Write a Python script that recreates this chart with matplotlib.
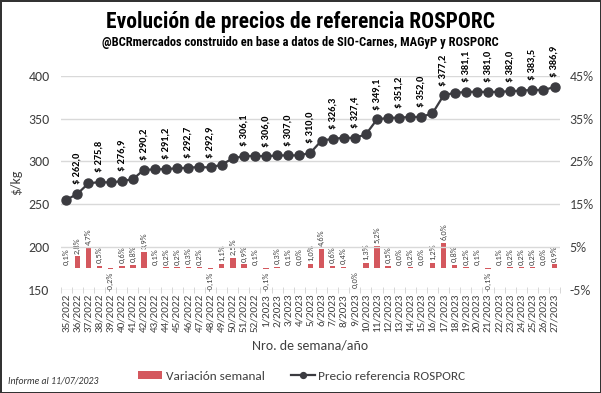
import matplotlib
matplotlib.use("Agg")
import matplotlib.pyplot as plt
import matplotlib.font_manager as fm
import numpy as np

# weeks 35/2022 .. 27/2023
weeks = [f"{w}/2022" for w in range(35, 53)] + [f"{w}/2023" for w in range(1, 28)]

price = [254.9, 262.0, 274.3, 275.8, 275.3, 276.9, 279.1, 290.2, 290.5, 291.2,
         291.8, 292.7, 293.3, 292.9, 296.1, 303.5, 306.1, 306.4, 306.0, 306.9,
         307.0, 307.0, 310.0, 324.3, 326.3, 327.6, 327.4, 331.6, 349.1, 350.8,
         351.2, 351.9, 352.0, 356.2, 377.2, 380.2, 381.1, 381.5, 381.0, 381.4,
         382.0, 382.8, 383.5, 383.5, 386.9]

var_pct = [0.1, 2.8, 4.7, 0.5, -0.2, 0.6, 0.8, 3.9, 0.1, 0.2,
           0.2, 0.3, 0.2, -0.1, 1.1, 2.5, 0.9, 0.1, -0.1, 0.3,
           0.1, 0.0, 1.0, 4.6, 0.6, 0.4, -0.02, 1.3, 5.2, 0.5,
           0.0, 0.2, 0.0, 1.2, 6.0, 0.8, 0.2, 0.1, -0.1, 0.1,
           0.2, 0.2, 0.2, 0.0, 0.9]

# points that carry a price label
price_labeled = [1, 3, 5, 7, 9, 11, 13, 16, 18, 20, 22, 24, 26, 28, 30, 32,
                 34, 36, 38, 40, 42, 44]


def pick(names):
    for n in names:
        try:
            fm.findfont(fm.FontProperties(family=n), fallback_to_default=False)
            return n
        except Exception:
            pass
    return 'DejaVu Sans'


narrow = pick(['Liberation Sans Narrow', 'DejaVu Sans Condensed', 'Roboto Condensed'])
body = pick(['Carlito', 'Liberation Sans Narrow', 'Liberation Sans'])
plt.rcParams['font.family'] = [body, 'DejaVu Sans']

line_col = '#3b3b40'
bar_col = '#d4585e'
txt_col = '#404040'

fig = plt.figure(figsize=(6.01, 3.93), dpi=100)
fig.patch.set_edgecolor('#333333')
fig.patch.set_linewidth(2)

ax = fig.add_axes([0.101, 0.263, 0.831, 0.544])
ax2 = ax.twinx()
x = np.arange(len(weeks))

# bars on the right (percent) axis
ax2.bar(x, var_pct, width=0.5, color=bar_col, zorder=2, label='Variación semanal')
for i, v in enumerate(var_pct):
    s = f"{abs(v) if round(v, 1) == 0 else v:.1f}%".replace('.', ',')
    if v >= 0:
        ax2.annotate(s, (i, v), xytext=(0, 2), textcoords='offset points', rotation=90,
                     ha='center', va='bottom', fontsize=6, color=txt_col)
    else:
        ax2.annotate(s, (i, v), xytext=(0, -2), textcoords='offset points', rotation=90,
                     ha='center', va='top', fontsize=6, color=txt_col)
ax2.set_ylim(-5, 45)
ax2.set_yticks([-5, 5, 15, 25, 35, 45])
ax2.set_yticklabels(['-5%', '5%', '15%', '25%', '35%', '45%'])

# price line on the left axis, drawn above the bars
ax.set_zorder(ax2.get_zorder() + 1)
ax.patch.set_visible(False)
ax.plot(x, price, color=line_col, lw=1.6, marker='o', ms=6.5, zorder=3,
        label='Precio referencia ROSPORC')
for i in price_labeled:
    ax.annotate(f"$ {price[i]:.1f}".replace('.', ','), (i, price[i]), xytext=(0, 7),
                textcoords='offset points', rotation=90, ha='center', va='bottom',
                fontsize=7.5, fontweight='bold', color='black')
ax.set_ylim(150, 400)
ax.set_yticks(range(150, 401, 50))
ax.set_xlim(-0.5, len(weeks) - 0.5)
ax.set_xticks(x)
ax.set_xticklabels(weeks, rotation=90, fontsize=8, color=txt_col)
ax.set_xticks(np.arange(-0.5, len(weeks), 1), minor=True)
ax.tick_params(axis='x', which='major', length=0, pad=3)
ax.tick_params(axis='x', which='minor', length=5, direction='inout', color='#d0d0d0')
ax.grid(axis='y', color='#d9d9d9', lw=1)
ax.set_axisbelow(True)

for a in (ax, ax2):
    for sp in a.spines.values():
        sp.set_visible(False)
    a.tick_params(axis='y', length=0, labelsize=10, labelcolor=txt_col)
ax.tick_params(axis='y', pad=8)
ax2.tick_params(axis='y', pad=7)

ax.set_ylabel('$/kg', fontsize=10, color=txt_col, labelpad=4)
ax.set_xlabel('Nro. de semana/año', fontsize=10, color=txt_col, labelpad=5)

fig.text(0.5, 0.945, 'Evolución de precios de referencia ROSPORC',
         ha='center', va='center', fontsize=15.5, fontweight='bold', family=narrow)
fig.text(0.5, 0.893, '@BCRmercados construido en base a datos de SIO-Carnes, MAGyP y ROSPORC',
         ha='center', va='center', fontsize=9, fontweight='bold', family=narrow)
fig.text(0.013, 0.03, 'Informe al 11/07/2023', fontsize=7, style='italic',
         color='#333333', va='center')

h1, l1 = ax2.get_legend_handles_labels()
h2, l2 = ax.get_legend_handles_labels()
fig.legend(h1 + h2, l1 + l2, loc='center', bbox_to_anchor=(0.502, 0.043), ncol=2,
           frameon=False, fontsize=9.5, handlelength=1.8, handleheight=0.5,
           markerscale=0.65, columnspacing=2.0, handletextpad=0.3,
           labelcolor=txt_col)

fig.savefig('out.png', dpi=100, edgecolor=fig.get_edgecolor())
